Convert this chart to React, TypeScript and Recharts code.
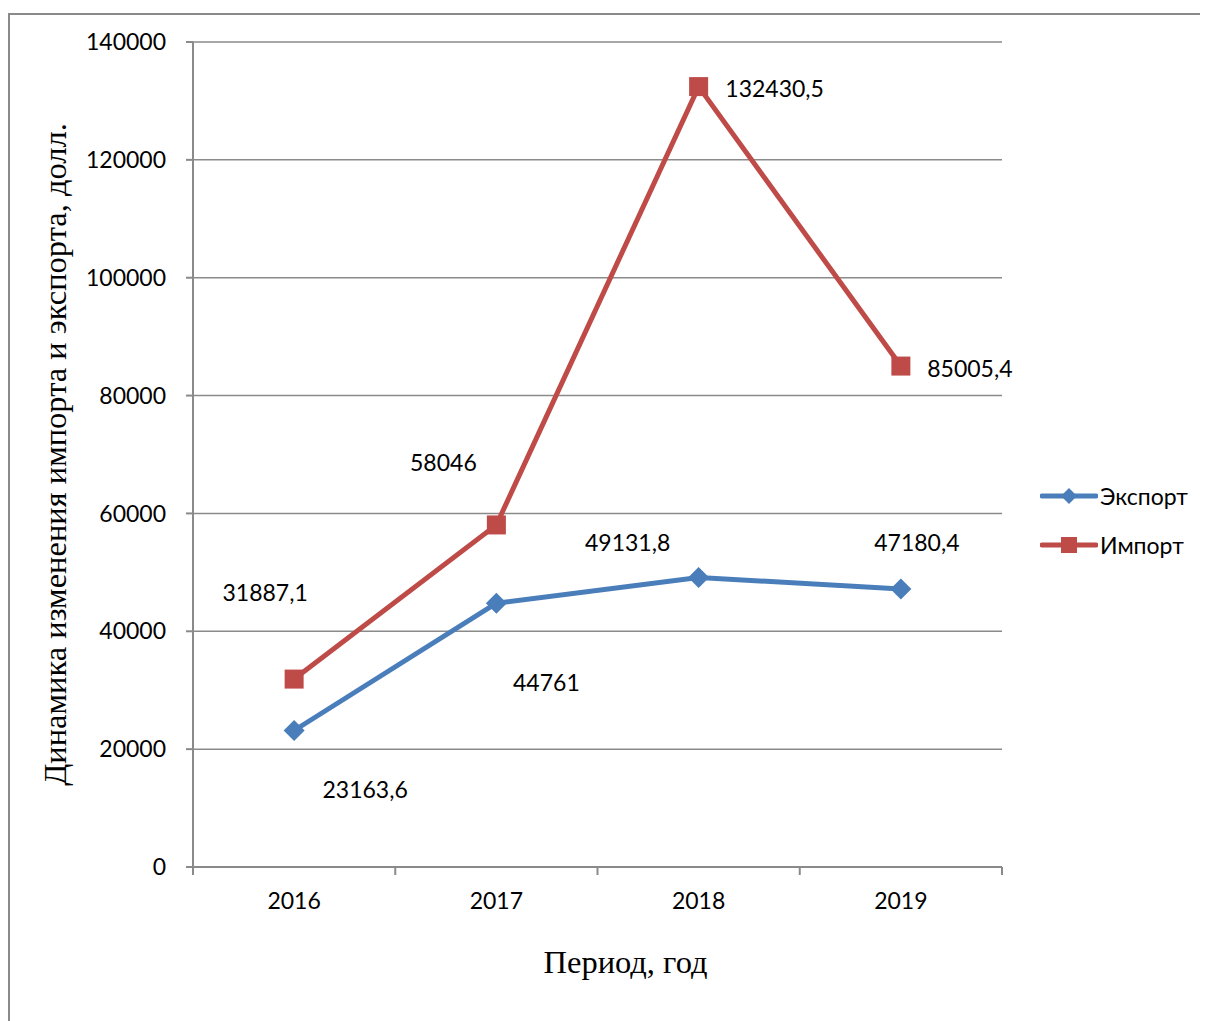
import { LineChart, Line, XAxis, YAxis, CartesianGrid, LabelList } from "recharts"

const years = ["2016", "2017", "2018", "2019"]
const exportValues = [23163.6, 44761, 49131.8, 47180.4]
const importValues = [31887.1, 58046, 132430.5, 85005.4]
const yTicks = [0, 20000, 40000, 60000, 80000, 100000, 120000, 140000]

const BLUE = "#4a7ebb"
const RED = "#be4b48"
const GRAY = "#8a8a8a"
const FONT = "Lato, 'Noto Sans', sans-serif"
const SERIF = "'Liberation Serif', serif"

// label offsets from each point, like the hand-moved labels in the original
const exportLabelShift = [[71, 58], [50, 79], [-71, -35], [16, -47]]
const importLabelShift = [[-29, -87], [-53, -63], [76, 1], [69, 2]]

const data = years.map((year, i) => ({
  year,
  exp: exportValues[i],
  imp: importValues[i],
}))

const fmt = (v: number) => String(v).replace(".", ",")

const makeLabel = (shift: number[][]) => (props: any) => {
  const { x, y, value, index } = props
  const [dx, dy] = shift[index]
  return (
    <text
      x={x + dx}
      y={y + dy}
      textAnchor="middle"
      dominantBaseline="central"
      fontFamily={FONT}
      fontSize={23}
      fill="#000"
    >
      {fmt(value)}
    </text>
  )
}

const Diamond = (props: any) => {
  const { cx, cy } = props
  const r = 10.5
  return (
    <polygon
      points={`${cx},${cy - r} ${cx + r},${cy} ${cx},${cy + r} ${cx - r},${cy}`}
      fill={BLUE}
    />
  )
}

const Square = (props: any) => {
  const { cx, cy } = props
  return <rect x={cx - 9.5} y={cy - 9.5} width={19} height={19} fill={RED} />
}

const TICK_MARGIN = 26

// year label + tick marks on the band edges (excel style)
const YearTick = (props: any) => {
  const { x, y, payload, index, visibleTicksCount } = props
  const axisY = y - TICK_MARGIN
  const half = payload.offset ?? 0
  const last = index === (visibleTicksCount ?? years.length) - 1
  return (
    <g>
      <line x1={x - half} y1={axisY} x2={x - half} y2={axisY + 8} stroke={GRAY} strokeWidth={2} />
      {last && (
        <line x1={x + half} y1={axisY} x2={x + half} y2={axisY + 8} stroke={GRAY} strokeWidth={2} />
      )}
      <text
        x={x}
        y={y}
        dy="0.71em"
        textAnchor="middle"
        fontFamily={FONT}
        fontSize={23}
        fill="#000"
      >
        {payload.value}
      </text>
    </g>
  )
}

function LegendItem({ color, label, square }: { color: string; label: string; square: boolean }) {
  return (
    <div style={{ display: "flex", alignItems: "center", height: 30 }}>
      <svg width={58} height={24}>
        <line x1={2} y1={12} x2={56} y2={12} stroke={color} strokeWidth={5} strokeLinecap="round" />
        {square ? (
          <rect x={21} y={4} width={16} height={16} fill={color} />
        ) : (
          <polygon points="29,4 37,12 29,20 21,12" fill={color} />
        )}
      </svg>
      <span style={{ fontFamily: FONT, fontSize: 23, marginLeft: 2, color: "#000" }}>{label}</span>
    </div>
  )
}

export default function App() {
  return (
    <div style={{ position: "relative", width: 1200, height: 1013 }}>
      <div
        style={{
          position: "absolute",
          left: 0,
          top: 5,
          width: 1200,
          height: 1008,
          borderLeft: `2px solid ${GRAY}`,
          borderTop: `2px solid ${GRAY}`,
          boxSizing: "border-box",
        }}
      />
      <div style={{ position: "absolute", left: 0, top: 0 }}>
        <LineChart
          width={1200}
          height={1013}
          data={data}
          margin={{ top: 34, right: 206, left: 0, bottom: 0 }}
        >
          <CartesianGrid vertical={false} stroke={GRAY} strokeWidth={1.5} />
          <XAxis
            dataKey="year"
            scale="band"
            stroke={GRAY}
            strokeWidth={2}
            tickLine={false}
            tickSize={0}
            tickMargin={TICK_MARGIN}
            height={154}
            interval={0}
            tick={<YearTick />}
            label={{
              content: (p: any) => {
                const vb = p.viewBox
                return (
                  <text
                    x={vb.x + vb.width / 2 + 28}
                    y={954}
                    textAnchor="middle"
                    dominantBaseline="central"
                    fontFamily={SERIF}
                    fontSize={32.5}
                    fill="#000"
                  >
                    Период, год
                  </text>
                )
              },
            }}
          />
          <YAxis
            width={185}
            domain={[0, 140000]}
            ticks={yTicks}
            interval={0}
            stroke={GRAY}
            strokeWidth={2}
            tickSize={7}
            tickMargin={20}
            tick={{ fontFamily: FONT, fontSize: 23, fill: "#000" }}
            label={{
              content: (p: any) => {
                const vb = p.viewBox
                const cy = vb.y + vb.height / 2
                return (
                  <text
                    x={47}
                    y={cy}
                    transform={`rotate(-90 47 ${cy})`}
                    textAnchor="middle"
                    dominantBaseline="central"
                    fontFamily={SERIF}
                    fontSize={32.5}
                    fill="#000"
                  >
                    Динамика изменения импорта и экспорта, долл.
                  </text>
                )
              },
            }}
          />
          <Line
            dataKey="exp"
            stroke={BLUE}
            strokeWidth={5}
            dot={<Diamond />}
            activeDot={false}
            isAnimationActive={false}
          >
            <LabelList dataKey="exp" content={makeLabel(exportLabelShift)} />
          </Line>
          <Line
            dataKey="imp"
            stroke={RED}
            strokeWidth={5}
            dot={<Square />}
            activeDot={false}
            isAnimationActive={false}
          >
            <LabelList dataKey="imp" content={makeLabel(importLabelShift)} />
          </Line>
        </LineChart>
      </div>
      <div style={{ position: "absolute", left: 1032, top: 473 }}>
        <LegendItem color={BLUE} label="Экспорт" square={false} />
        <div style={{ height: 19 }} />
        <LegendItem color={RED} label="Импорт" square={true} />
      </div>
    </div>
  )
}
